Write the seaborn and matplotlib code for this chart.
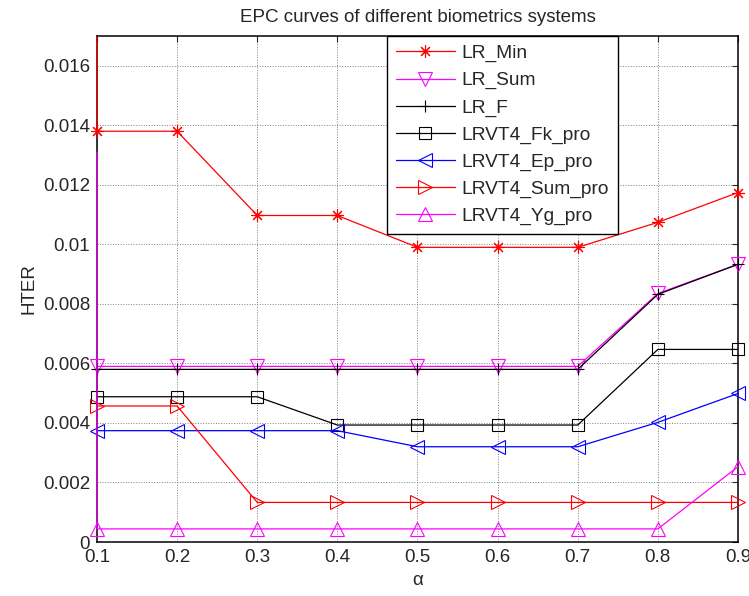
import numpy as np
import pandas as pd
import matplotlib
matplotlib.use('Agg')
import matplotlib.pyplot as plt
import seaborn as sns
from matplotlib.ticker import FormatStrFormatter, FuncFormatter

# =============================================================
# DATA
# =============================================================
alpha = [0.1, 0.2, 0.3, 0.4, 0.5, 0.6, 0.7, 0.8, 0.9]

lr_min        = [0.0138, 0.0138, 0.01097, 0.01097, 0.0099, 0.0099, 0.0099, 0.01074, 0.01174]
lr_sum        = [0.0059, 0.0059, 0.0059, 0.0059, 0.0059, 0.0059, 0.0059, 0.00835, 0.00933]
lr_f          = [0.0058, 0.0058, 0.0058, 0.0058, 0.0058, 0.0058, 0.0058, 0.00832, 0.00933]
lrvt4_fk_pro  = [0.00488, 0.00488, 0.00488, 0.00393, 0.00393, 0.00393, 0.00393, 0.00647, 0.00647]
lrvt4_ep_pro  = [0.00374, 0.00374, 0.00374, 0.00374, 0.0032, 0.0032, 0.0032, 0.00402, 0.00499]
lrvt4_sum_pro = [0.00457, 0.00457, 0.00133, 0.00133, 0.00133, 0.00133, 0.00133, 0.00133, 0.00133]
lrvt4_yg_pro  = [0.00044, 0.00044, 0.00044, 0.00044, 0.00044, 0.00044, 0.00044, 0.00044, 0.00253]

# leading values at alpha = 0.1 (the vertical strokes on the left edge)
lead_min = 0.017
lead_yg  = 0.0131

labels = ['LR_Min', 'LR_Sum', 'LR_F', 'LRVT4_Fk_pro',
          'LRVT4_Ep_pro', 'LRVT4_Sum_pro', 'LRVT4_Yg_pro']

# =============================================================
# STYLE
# =============================================================
sns.set_style('white')
plt.rcParams['font.family'] = ['Liberation Sans', 'DejaVu Sans']
plt.rcParams['mathtext.fontset'] = 'dejavusans'

STYLES = [
    dict(color='#ff0000', marker=(8, 2, 0), ms=9),
    dict(color='#ff00ff', marker='v',       ms=9.5),
    dict(color='#000000', marker='+',       ms=8),
    dict(color='#000000', marker='s',       ms=8.5),
    dict(color='#0000ff', marker='<',       ms=9.5),
    dict(color='#ff0000', marker='>',       ms=9.5),
    dict(color='#ff00ff', marker='^',       ms=9.5),
]

series = [
    ([0.1] + alpha, [lead_min] + lr_min, True),
    (alpha, lr_sum, False),
    (alpha, lr_f, False),
    (alpha, lrvt4_fk_pro, False),
    (alpha, lrvt4_ep_pro, False),
    (alpha, lrvt4_sum_pro, False),
    ([0.1] + alpha, [lead_yg] + lrvt4_yg_pro, True),
]

# =============================================================
# PLOT
# =============================================================
fig = plt.figure(figsize=(7.49, 5.96), dpi=100)
ax = fig.add_axes([0.1295, 0.0906, 0.8558, 0.849])

for (xs, ys, lead), label, st in zip(series, labels, STYLES):
    df = pd.DataFrame({'alpha': xs, 'HTER': ys})
    sns.lineplot(data=df, x='alpha', y='HTER', ax=ax, estimator=None,
                 sort=False, label=label, color=st['color'],
                 marker=st['marker'], markersize=st['ms'],
                 markerfacecolor='none', markeredgecolor=st['color'],
                 markeredgewidth=0.8, linewidth=0.9, zorder=3, clip_on=False,
                 markevery=slice(1, None) if lead else None)

ax.set_xlim(0.1, 0.9)
ax.set_ylim(0, 0.017)
ax.set_xticks(alpha)
ax.set_yticks(np.arange(0, 0.0161, 0.002))
ax.xaxis.set_major_formatter(FormatStrFormatter('%g'))
ax.yaxis.set_major_formatter(FuncFormatter(lambda v, p: '%g' % round(v, 4)))

ax.grid(True, linestyle=':', color='#808080', linewidth=0.7)
ax.tick_params(direction='in', top=True, right=True, length=4,
               width=0.8, labelsize=13.5, pad=5)
for sp in ax.spines.values():
    sp.set_color('black')
    sp.set_linewidth(1.1)
    sp.set_zorder(2.5)

ax.set_title('EPC curves of different biometrics systems', fontsize=13.5, pad=10)
ax.set_xlabel('α', fontsize=13.5, labelpad=4)
ax.set_ylabel('HTER', fontsize=13.5, labelpad=4)

leg = ax.legend(loc='upper left', bbox_to_anchor=(0.4524, 1.0),
                borderaxespad=0, fontsize=13.8, frameon=True, fancybox=False,
                edgecolor='black', framealpha=1, handlelength=3.1,
                handletextpad=0.35, labelspacing=0.5, borderpad=0.45,
                numpoints=1)
leg.get_frame().set_linewidth(1.0)
leg.set_zorder(5)

plt.savefig('out.png', dpi=100)
